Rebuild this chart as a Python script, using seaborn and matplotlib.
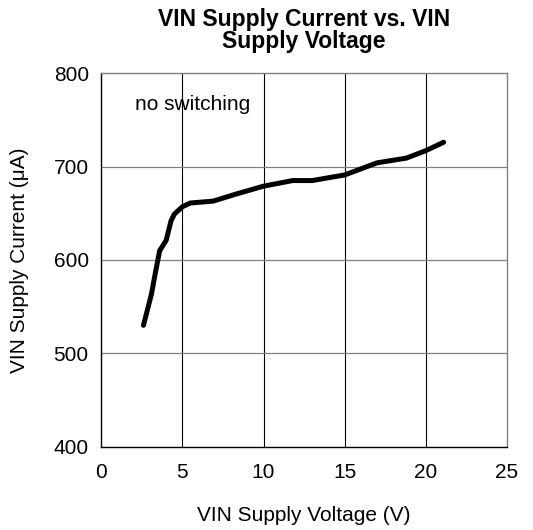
import numpy as np
import pandas as pd
import matplotlib
matplotlib.use("Agg")
import matplotlib.pyplot as plt
import seaborn as sns

# values
vin_volts = [2.6, 3.1, 3.3, 3.6, 4.0, 4.3, 4.5, 5.0, 5.5, 6.9, 8.2, 10.0,
             11.8, 13.0, 15.0, 17.0, 18.8, 20.0, 21.1]
vin_current_ua = [530, 564, 583, 610, 621, 642, 649, 657, 661, 663, 670, 679,
                  685, 685, 691, 704, 709, 717, 726]
x_ticks = [0, 5, 10, 15, 20, 25]
y_ticks = [400, 500, 600, 700, 800]

df = pd.DataFrame({"Voltage": vin_volts, "Current": vin_current_ua})

sns.set_theme(style="white")
plt.rcParams['font.family'] = ['Liberation Sans', 'DejaVu Sans']
plt.rcParams['text.color'] = 'black'
plt.rcParams['axes.labelcolor'] = 'black'

fig = plt.figure(figsize=(5.33, 5.30), dpi=100)
ax = fig.add_axes([0.19, 0.157, 0.761, 0.705])

sns.lineplot(data=df, x="Voltage", y="Current", ax=ax, color="black",
             linewidth=3.6, sort=False, estimator=None,
             solid_capstyle="round", zorder=5)

ax.set_xlim(0, 25)
ax.set_ylim(400, 800)
ax.set_xticks(x_ticks)
ax.set_yticks(y_ticks)

# vertical grid black, horizontal grid gray
for xv in x_ticks[1:-1]:
    ax.axvline(xv, color="black", linewidth=0.8, zorder=1)
for yv in y_ticks[1:-1]:
    ax.axhline(yv, color="#808080", linewidth=0.9, zorder=1)

ax.spines['left'].set_color("black")
ax.spines['bottom'].set_color("black")
ax.spines['top'].set_color("#808080")
ax.spines['right'].set_color("#808080")
for s in ax.spines.values():
    s.set_linewidth(1.0)

ax.tick_params(axis='both', length=0, labelsize=15, colors="black")
ax.tick_params(axis='x', pad=12)
ax.tick_params(axis='y', pad=9)

ax.text(2.1, 766, "no switching", fontsize=15, ha="left", va="center", color="black")

ax.set_xlabel("VIN Supply Voltage (V)", fontsize=15, labelpad=17, color="black")
ax.set_ylabel("VIN Supply Current (\u03bcA)", fontsize=15, labelpad=18, color="black")
ax.set_title("VIN Supply Current vs. VIN\nSupply Voltage", fontsize=16.5,
             fontweight="bold", linespacing=0.95, pad=18, color="black")

fig.savefig("out.png", dpi=100)
